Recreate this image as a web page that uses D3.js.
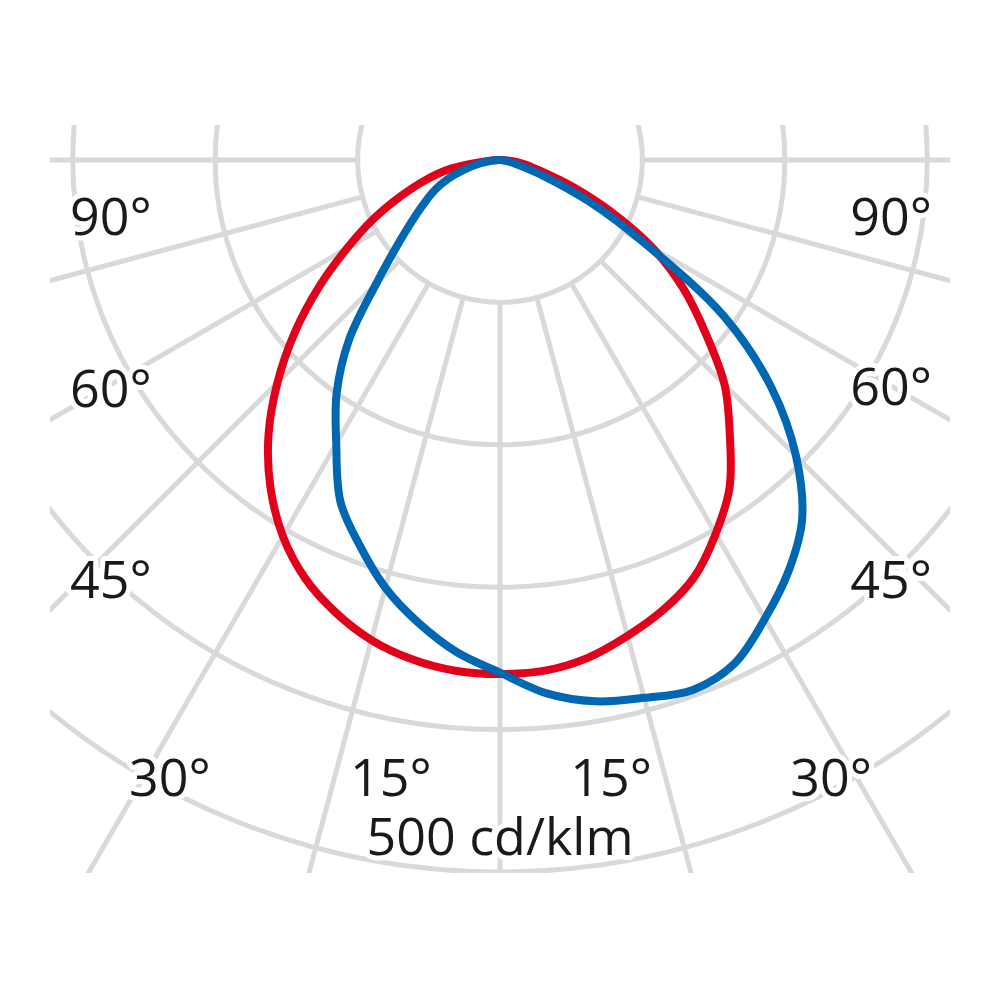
<!DOCTYPE html>
<html>
<head>
<meta charset="utf-8">
<script src="https://cdn.jsdelivr.net/npm/d3@7"></script>
<style>
  body { margin: 0; background: #fff; }
  svg { display: block; }
</style>
</head>
<body>
<div id="chart"></div>
<script>
// angle from nadir, negative = left half of the diagram
const angles = [-90, -85, -80, -75, -70, -65, -60, -55, -50, -45, -40, -35, -30, -25, -20, -15, -10, -5, 0,
    5, 10, 15, 20, 25, 30, 35, 40, 45, 50, 55, 60, 65, 70, 75, 80, 85, 90]

// cd/klm, red plane
const redValues = [0, 11, 35, 54, 74, 98, 124, 155, 188, 221, 253, 281, 305, 324, 338, 349, 356, 360, 361,
    360, 355, 346, 336, 323, 303, 281, 251, 223, 188, 157, 124, 86, 53, 29, 18, 8, 0]

// cd/klm, blue plane
const blueValues = [0, 6, 15, 26, 39, 51, 62, 76, 95, 123, 165, 200, 230, 265, 288, 311, 330, 347, 360,
    376, 386, 391, 396, 390, 372, 353, 330, 294, 249, 193, 118, 69, 32, 13, 6, 2, 0]

const ringValues = [100, 200, 300, 400, 500]
const spokeAngles = [-165, -150, -135, -120, -105, -90, -75, -60, -45, -30, -15, 0,
    15, 30, 45, 60, 75, 90, 105, 120, 135, 150, 165, 180]

const angleLabels = ["90°", "60°", "45°", "30°", "15°", "15°", "30°", "45°", "60°", "90°"]
const unitLabel = "500 cd/klm"

// where the labels sit on the page
const labelLayout = [
    {x: 70, y: 235, anchor: "start"},
    {x: 70, y: 407, anchor: "start"},
    {x: 70, y: 598, anchor: "start"},
    {x: 129, y: 796, anchor: "start"},
    {x: 350, y: 796, anchor: "start"},
    {x: 652, y: 796, anchor: "end"},
    {x: 872, y: 796, anchor: "end"},
    {x: 932, y: 598, anchor: "end"},
    {x: 932, y: 405, anchor: "end"},
    {x: 932, y: 235, anchor: "end"}
]

var width = 1000, height = 1000
var cx = 500, cy = 160

var r = d3.scaleLinear().domain([0, 500]).range([0, 712])
// nadir points down: lineRadial angle = PI - theta
var toAngle = deg => Math.PI - deg * Math.PI / 180

var svg = d3.select("#chart")
    .append("svg")
    .attr("width", width)
    .attr("height", height)
    .style("background", "#fff")

svg.append("defs").append("clipPath")
    .attr("id", "gridClip")
    .append("rect")
    .attr("x", 50)
    .attr("y", 125)
    .attr("width", 900)
    .attr("height", 748)

var grid = svg.append("g")
    .attr("clip-path", "url(#gridClip)")
    .append("g")
    .attr("transform", "translate(" + cx + "," + cy + ")")

grid.selectAll("circle")
    .data(ringValues)
    .enter()
    .append("circle")
    .attr("r", d => r(d))
    .attr("fill", "none")
    .attr("stroke", "#d9d9d9")
    .attr("stroke-width", 5)

grid.selectAll("line")
    .data(spokeAngles)
    .enter()
    .append("line")
    .attr("x1", d => d3.pointRadial(toAngle(d), r(ringValues[0]))[0])
    .attr("y1", d => d3.pointRadial(toAngle(d), r(ringValues[0]))[1])
    .attr("x2", d => d3.pointRadial(toAngle(d), r(1000))[0])
    .attr("y2", d => d3.pointRadial(toAngle(d), r(1000))[1])
    .attr("stroke", "#d9d9d9")
    .attr("stroke-width", 5)

// labels with a white halo so the grid breaks around them
svg.append("g")
    .selectAll("text")
    .data(angleLabels)
    .enter()
    .append("text")
    .attr("x", (d, i) => labelLayout[i].x)
    .attr("y", (d, i) => labelLayout[i].y)
    .attr("text-anchor", (d, i) => labelLayout[i].anchor)
    .text(d => d)
    .style("font-family", "'Open Sans', sans-serif")
    .style("font-size", "52px")
    .style("fill", "#1a1a1a")
    .style("stroke", "#fff")
    .style("stroke-width", 10)
    .style("stroke-linejoin", "round")
    .style("paint-order", "stroke")

svg.append("text")
    .attr("x", cx)
    .attr("y", 855)
    .attr("text-anchor", "middle")
    .text(unitLabel)
    .style("font-family", "'Open Sans', sans-serif")
    .style("font-size", "52px")
    .style("fill", "#1a1a1a")
    .style("stroke", "#fff")
    .style("stroke-width", 10)
    .style("stroke-linejoin", "round")
    .style("paint-order", "stroke")

// the two intensity curves; both ends meet in the centre, so drop the last point and close
var curve = d3.lineRadial()
    .angle(d => toAngle(d[0]))
    .radius(d => r(d[1]))
    .curve(d3.curveCatmullRomClosed.alpha(0.5))

var plot = svg.append("g")
    .attr("transform", "translate(" + cx + "," + cy + ")")

const series = [
    {values: redValues, color: "#e2001a"},
    {values: blueValues, color: "#0068b3"}
]

plot.selectAll("path")
    .data(series)
    .enter()
    .append("path")
    .attr("d", s => curve(angles.slice(0, -1).map((a, i) => [a, s.values[i]])))
    .attr("fill", "none")
    .attr("stroke", s => s.color)
    .attr("stroke-width", 8)
    .attr("stroke-linejoin", "round")
</script>
</body>
</html>
